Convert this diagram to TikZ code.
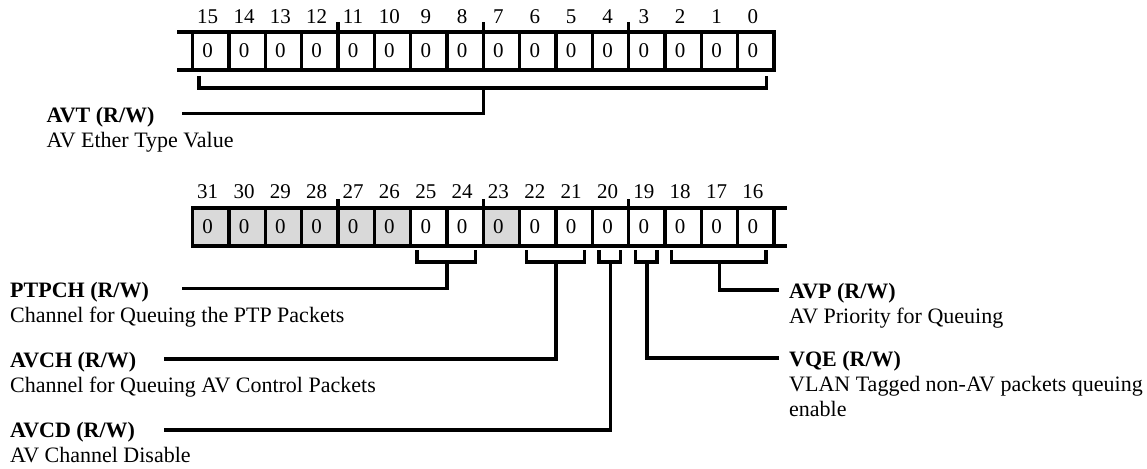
\documentclass[tikz,border=0pt]{standalone}
\usepackage{fontspec}
\setmainfont{Liberation Serif}
\usetikzlibrary{calc}
\begin{document}
\begin{tikzpicture}[x=1pt,y=-1pt,
  regline/.style={line width=3.3pt},
  cellbox/.style={draw, line width=3.3pt, minimum width=36.35pt, minimum height=38pt,
    inner sep=0pt, outer sep=0pt, font=\fontsize{21}{25}\selectfont},
  rsv/.style={cellbox, fill=black!15},
  bitnum/.style={inner sep=0pt, font=\fontsize{21}{25}\selectfont},
  fieldname/.style={anchor=base west, inner sep=0pt, font=\fontsize{22}{26}\selectfont\bfseries},
  fielddesc/.style={anchor=base west, inner sep=0pt, font=\fontsize{22}{26}\selectfont},
  conn/.style={line width=3.3pt},
]
\useasboundingbox (0,0) rectangle (1147,468);

% ---------- register bits 15..0 ----------
\foreach \i in {0,...,15}{
  \node[cellbox] (t\i) at ({192.5+(15.5-\i)*36.35},51) {\kern-6pt0};
  \node[bitnum] (tn\i) at ({192.5+(15.5-\i)*36.35-3},17) {\i};
}
\draw[regline] (t12.north east) -- ++(0,-9.5);
\draw[regline] (t8.north east) -- ++(0,-9.5);
\draw[regline] (t4.north east) -- ++(0,-9.5);
\draw[regline] (t15.north west) -- ++(-16,0);
\draw[regline] (t15.south west) -- ++(-16,0);

% ---------- register bits 31..16 ----------
\foreach \i in {31,30,29,28,27,26,23}{
  \node[rsv] (b\i) at ({192.5+(31.5-\i)*36.35},227) {\kern-6pt0};
}
\foreach \i in {25,24,22,21,20,19,18,17,16}{
  \node[cellbox] (b\i) at ({192.5+(31.5-\i)*36.35},227) {\kern-6pt0};
}
\foreach \i in {16,...,31}{
  \node[bitnum] (bn\i) at ({192.5+(31.5-\i)*36.35-3},192) {\i};
}
\draw[regline] (b28.north east) -- ++(0,-9.5);
\draw[regline] (b24.north east) -- ++(0,-9.5);
\draw[regline] (b20.north east) -- ++(0,-9.5);
\draw[regline] (b16.north east) -- ++(13,0);
\draw[regline] (b16.south east) -- ++(13,0);

% ---------- AVT ----------
\coordinate (avt-a) at ($(t15.south west)+(6.5,6)$);
\coordinate (avt-b) at ($(t0.south east)+(-7.5,6)$);
\coordinate (avt-m) at ($(t8.south east)+(0,18)$);
\coordinate (avt-e) at (182,113.5);
\draw[conn] (avt-a) -- ++(0,12) -| (avt-b);
\draw[conn] (avt-m) |- (avt-e);
\node[fieldname] (avt) at (46.5,122) {AVT (R/W)};
\node[fielddesc] (avtd) at (46.5,147) {AV Ether Type Value};

% ---------- PTPCH ----------
\coordinate (ptp-a) at ($(b25.south west)+(6.5,4)$);
\coordinate (ptp-b) at ($(b24.south east)+(-8,4)$);
\coordinate (ptp-m) at ($(b25.south east)+(0,16)$);
\coordinate (ptp-e) at (182,288.5);
\draw[conn] (ptp-a) -- ++(0,12) -| (ptp-b);
\draw[conn] (ptp-m) |- (ptp-e);
\node[fieldname] (ptp) at (10,297) {PTPCH (R/W)};
\node[fielddesc] (ptpd) at (10,322) {Channel for Queuing the PTP Packets};

% ---------- AVCH ----------
\coordinate (avch-a) at ($(b22.south west)+(6.5,4)$);
\coordinate (avch-b) at ($(b21.south east)+(-8,4)$);
\coordinate (avch-m) at ($(b22.south east)+(0,16)$);
\coordinate (avch-e) at (164,359);
\draw[conn] (avch-a) -- ++(0,12) -| (avch-b);
\draw[conn] (avch-m) |- (avch-e);
\node[fieldname] (avch) at (10,367) {AVCH (R/W)};
\node[fielddesc] (avchd) at (10,392) {Channel for Queuing AV Control Packets};

% ---------- AVCD ----------
\coordinate (avcd-a) at ($(b20.south west)+(6.5,4)$);
\coordinate (avcd-b) at ($(b20.south east)+(-8,4)$);
\coordinate (avcd-m) at ($(b20.south)+(0,16)$);
\coordinate (avcd-e) at (164,430);
\draw[conn] (avcd-a) -- ++(0,12) -| (avcd-b);
\draw[conn] (avcd-m) |- (avcd-e);
\node[fieldname] (avcd) at (10,437.5) {AVCD (R/W)};
\node[fielddesc] (avcdd) at (10,462) {AV Channel Disable};

% ---------- VQE ----------
\coordinate (vqe-a) at ($(b19.south west)+(6.5,4)$);
\coordinate (vqe-b) at ($(b19.south east)+(-8,4)$);
\coordinate (vqe-m) at ($(b19.south)+(0,16)$);
\coordinate (vqe-e) at (779,358);
\draw[conn] (vqe-a) -- ++(0,12) -| (vqe-b);
\draw[conn] (vqe-m) |- (vqe-e);
\node[fieldname] (vqe) at (789,366) {VQE (R/W)};
\node[fielddesc] (vqed) at (789,391) {VLAN Tagged non-AV packets queuing};
\node[fielddesc] (vqed2) at (789,416) {enable};

% ---------- AVP ----------
\coordinate (avp-a) at ($(b18.south west)+(6.5,4)$);
\coordinate (avp-b) at ($(b16.south east)+(-8,4)$);
\coordinate (avp-m) at ($(b17.south)+(0,16)$);
\coordinate (avp-e) at (779,290);
\draw[conn] (avp-a) -- ++(0,12) -| (avp-b);
\draw[conn] (avp-m) |- (avp-e);
\node[fieldname] (avp) at (789,298) {AVP (R/W)};
\node[fielddesc] (avpd) at (789,323) {AV Priority for Queuing};
\end{tikzpicture}
\end{document}
